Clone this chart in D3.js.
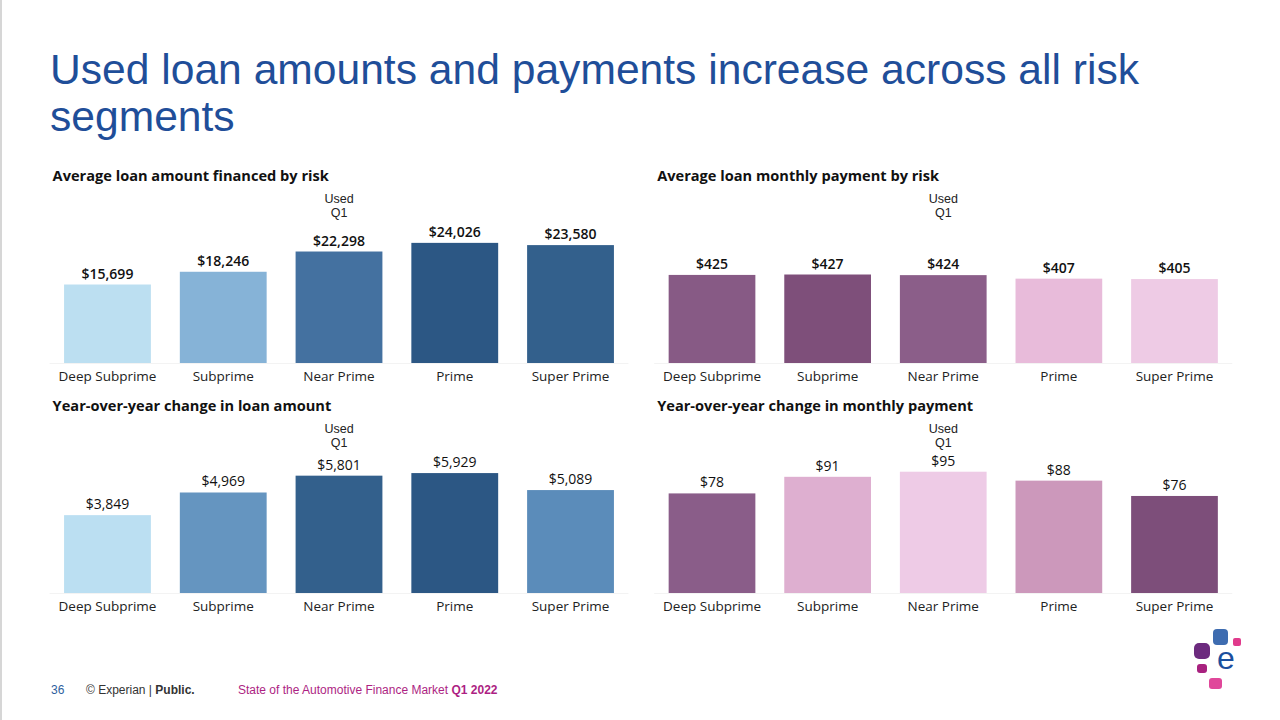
<!DOCTYPE html>
<html lang="en">
<head>
    <meta charset="UTF-8">
    <title>Used loan amounts and payments</title>
    <style>
        body { margin: 0; background: #fff; }
        svg { display: block; }
        .page-title { font-family: "Liberation Sans", Arial, sans-serif; font-size: 42.6px; fill: #1f4e99; }
        .chart-title { font-family: "Open Sans", sans-serif; font-size: 14.6px; font-weight: 700; fill: #111; }
        .header { font-family: "Liberation Sans", Arial, sans-serif; font-size: 12.5px; fill: #222; }
        .value { font-family: "Open Sans", sans-serif; font-size: 14px; fill: #111; }
        .cat { font-family: "Open Sans", sans-serif; font-size: 13.5px; fill: #222; }
        .footer { font-family: "Liberation Sans", Arial, sans-serif; font-size: 12px; }
    </style>
</head>
<body>
<div id="chart"></div>
<script src="https://d3js.org/d3.v7.min.js"></script>
<script>
    // data
    const categories = ["Deep Subprime", "Subprime", "Near Prime", "Prime", "Super Prime"];
    const loanAmount = [15699, 18246, 22298, 24026, 23580];
    const monthlyPayment = [425, 427, 424, 407, 405];
    const loanAmountChange = [3849, 4969, 5801, 5929, 5089];
    const paymentChange = [78, 91, 95, 88, 76];

    // bar colours per panel
    const loanColors = ["#bcdff1", "#86b3d7", "#4471a0", "#2c5784", "#33608c"];
    const paymentColors = ["#875a85", "#7e4f7a", "#8b5e89", "#e8bbda", "#eecbe5"];
    const loanChangeColors = ["#bbdff2", "#6595c0", "#33608c", "#2c5784", "#5b8cba"];
    const paymentChangeColors = ["#8a5d89", "#deafd0", "#eecbe6", "#cc98bb", "#7d4e7a"];

    const width = 1280, height = 720;

    const svg = d3.select("#chart").append("svg")
        .attr("width", width)
        .attr("height", height);

    // thin grey edge on the left of the slide
    svg.append("rect").attr("x", 0).attr("y", 0).attr("width", 2).attr("height", height).attr("fill", "#d6d6d6");

    svg.append("text").attr("class", "page-title").attr("x", 50).attr("y", 84)
        .text("Used loan amounts and payments increase across all risk");
    svg.append("text").attr("class", "page-title").attr("x", 50).attr("y", 131)
        .text("segments");

    const panels = [
        { title: "Average loan amount financed by risk", values: loanAmount, colors: loanColors,
          x0: 49.6, x1: 628.4, top: 176, base: 363, max: 28600, bold: true },
        { title: "Average loan monthly payment by risk", values: monthlyPayment, colors: paymentColors,
          x0: 654.2, x1: 1232.3, top: 176, base: 363, max: 690, bold: true },
        { title: "Year-over-year change in loan amount", values: loanAmountChange, colors: loanChangeColors,
          x0: 49.6, x1: 628.4, top: 406, base: 593, max: 7070, bold: false },
        { title: "Year-over-year change in monthly payment", values: paymentChange, colors: paymentChangeColors,
          x0: 654.2, x1: 1232.3, top: 406, base: 593, max: 112, bold: false }
    ];

    const fmt = d3.format("$,");

    panels.forEach(p => {
        const g = svg.append("g");

        const x = d3.scaleBand()
            .domain(categories)
            .range([p.x0, p.x1])
            .paddingInner(0.25)
            .paddingOuter(0.125);

        const y = d3.scaleLinear()
            .domain([0, p.max])
            .range([p.base, p.base - 143]);

        const data = categories.map((c, i) => ({ cat: c, value: p.values[i], color: p.colors[i] }));

        g.append("text").attr("class", "chart-title")
            .attr("x", p.x0 + 3).attr("y", p.top + 5)
            .text(p.title);

        // column header over the middle
        const hx = x("Near Prime") + x.bandwidth() / 2;
        g.append("text").attr("class", "header")
            .attr("x", hx).attr("y", p.top + 26.5)
            .attr("text-anchor", "middle").text("Used");
        g.append("text").attr("class", "header")
            .attr("x", hx).attr("y", p.top + 41)
            .attr("text-anchor", "middle").text("Q1");

        // faint baseline
        g.append("line")
            .attr("x1", p.x0).attr("x2", p.x1)
            .attr("y1", p.base + 0.5).attr("y2", p.base + 0.5)
            .attr("stroke", "#f3f3f3");

        g.selectAll("rect.bar")
            .data(data)
            .enter()
            .append("rect")
            .attr("class", "bar")
            .attr("x", d => x(d.cat))
            .attr("y", d => y(d.value))
            .attr("width", x.bandwidth())
            .attr("height", d => y(0) - y(d.value))
            .attr("fill", d => d.color);

        g.selectAll("text.value")
            .data(data)
            .enter()
            .append("text")
            .attr("class", "value")
            .attr("x", d => x(d.cat) + x.bandwidth() / 2)
            .attr("y", d => y(d.value) - 6)
            .attr("text-anchor", "middle")
            .attr("font-weight", p.bold ? 600 : 400)
            .text(d => fmt(d.value));

        const axis = d3.axisBottom(x).tickSize(0).tickPadding(0);
        const ax = g.append("g")
            .attr("transform", `translate(0,${p.base})`)
            .call(axis);
        ax.select(".domain").remove();
        ax.selectAll("text")
            .attr("class", "cat")
            .attr("fill", null)
            .attr("dy", null)
            .attr("y", 18)
            .attr("font-size", null)
            .attr("font-family", null);
    });

    // footer
    svg.append("text").attr("class", "footer").attr("x", 51).attr("y", 694)
        .attr("fill", "#2e5f9e").text("36");
    const ft = svg.append("text").attr("class", "footer").attr("x", 86).attr("y", 694).attr("fill", "#333");
    ft.append("tspan").text("© Experian | ");
    ft.append("tspan").attr("font-weight", "bold").text("Public.");
    const ft2 = svg.append("text").attr("class", "footer").attr("x", 238).attr("y", 694).attr("fill", "#ad1f83");
    ft2.append("tspan").text("State of the Automotive Finance Market ");
    ft2.append("tspan").attr("font-weight", "bold").text("Q1 2022");

    // logo
    const logo = svg.append("g");
    logo.append("rect").attr("x", 1213).attr("y", 629).attr("width", 15).attr("height", 16).attr("rx", 4).attr("fill", "#3e6cb0");
    logo.append("rect").attr("x", 1233).attr("y", 638).attr("width", 8).attr("height", 8).attr("rx", 2).attr("fill", "#e03a8c");
    logo.append("rect").attr("x", 1194).attr("y", 643).attr("width", 16).attr("height", 16).attr("rx", 5).attr("fill", "#6c2a7e");
    logo.append("rect").attr("x", 1197).attr("y", 664).attr("width", 10).attr("height", 9).attr("rx", 3).attr("fill", "#a8217f");
    logo.append("rect").attr("x", 1209).attr("y", 678).attr("width", 13).attr("height", 11).attr("rx", 3).attr("fill", "#e0479a");
    logo.append("text").attr("x", 1226).attr("y", 669).attr("text-anchor", "middle")
        .attr("font-family", "Liberation Sans, Arial, sans-serif").attr("font-size", 32)
        .attr("fill", "#1b4f9e").text("e");
</script>
</body>
</html>
